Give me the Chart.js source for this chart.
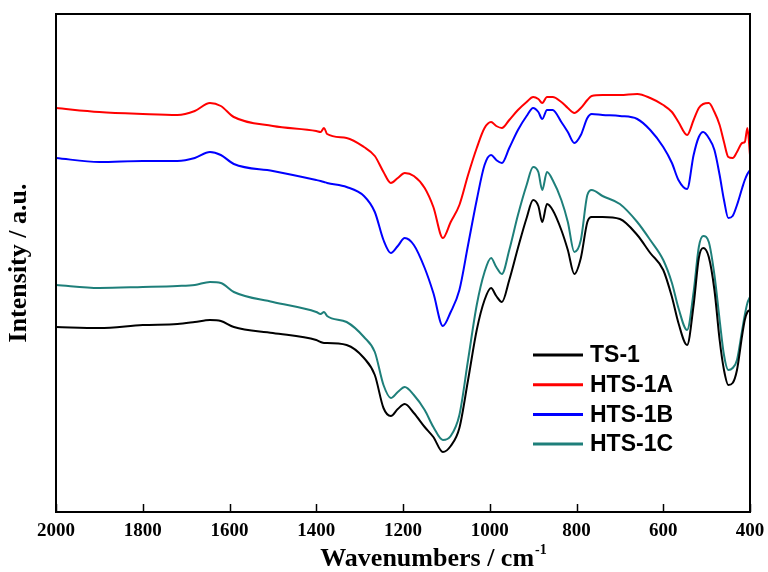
<!DOCTYPE html>
<html>
<head>
<meta charset="utf-8">
<script src="https://cdn.jsdelivr.net/npm/chart.js@4.4.1/dist/chart.umd.min.js"></script>
<style>
  html, body { margin: 0; padding: 0; background: #fff; }
  #wrap { width: 768px; height: 572px; }
</style>
</head>
<body>
<div id="wrap"><canvas id="myChart"></canvas></div>
<script>
// wavenumbers (cm-1)
const wavenumbers = [2000,1900,1800,1720,1680,1645,1620,1590,1500,1400,
  1390,1382,1375,1330,1290,1265,1245,1228,1212,1196,
  1175,1150,1130,1108,1090,1070,1050,1030,1012,997,
  985,972,955,935,915,900,888,879,868,855,
  835,820,805,790,775,765,740,700,660,630,
  600,580,565,545,530,518,508,495,482,470,
  460,450,440,430,418,412,406,400];

// intensities (a.u., stacked offsets as in the figure)
const ts1 = [185,184,187,188,190,192,191,185,179,172,
  170,169,169,167,154,137,104,96,103,108,
  99,85,75,60,66,84,132,182,212,224,
  216,210,232,264,294,312,306,290,308,302,
  282,262,238,254,290,295,295,293,277,259,
  242,215,189,167,207,254,264,255,222,172,
  142,127,129,142,177,192,200,202];

const hts1a = [404,400,398,397,401,409,406,395,386,381,
  380,384,378,374,365,356,340,329,334,339,
  336,324,305,274,290,307,337,364,384,390,
  386,384,392,402,410,415,413,409,415,415,
  410,404,399,404,412,416,417,417,418,414,
  407,400,390,377,392,404,408,409,400,387,
  370,355,354,360,369,370,384,357];

const hts1b = [354,350,351,351,354,360,357,348,341,332,
  331,330,329,325,316,300,272,259,266,274,
  267,244,219,186,200,222,267,312,347,357,
  352,349,364,382,396,404,400,393,402,402,
  390,380,369,377,394,398,397,396,393,382,
  365,349,332,323,357,375,380,374,362,337,
  312,294,296,307,324,332,338,342];

const hts1c = [227,224,225,226,227,230,229,220,210,200,
  198,200,196,190,175,160,127,114,120,125,
  117,102,85,72,76,97,152,207,240,254,
  245,238,262,297,327,345,340,322,340,332,
  312,290,260,272,317,322,316,308,290,272,
  252,229,204,182,220,265,276,270,237,192,
  157,142,144,152,182,197,209,215];

const seriesNames = ["TS-1", "HTS-1A", "HTS-1B", "HTS-1C"];
const seriesValues = [ts1, hts1a, hts1b, hts1c];
const seriesColors = ["#000000", "#ff0000", "#0000ff", "#1e7f7a"];

const serif = "'Liberation Serif', 'Times New Roman', serif";

function toPoints(values) {
  return wavenumbers.map((w, i) => ({ x: w, y: values[i] }));
}

const data = {
  datasets: seriesNames.map((name, i) => ({
    label: name,
    data: toPoints(seriesValues[i]),
    borderColor: seriesColors[i],
    borderWidth: 2,
    pointRadius: 0,
    fill: false,
    cubicInterpolationMode: "monotone",
  })),
};

/* frame + inner ticks + x title with superscript */
const framePlugin = {
  id: "frame",
  afterDraw(chart) {
    const { ctx, chartArea: a, scales } = chart;
    ctx.save();
    ctx.strokeStyle = "#000";
    ctx.lineWidth = 2;
    ctx.strokeRect(a.left, a.top, a.right - a.left, a.bottom - a.top);
    ctx.lineWidth = 1.5;
    scales.x.ticks.forEach((t) => {
      const px = Math.round(scales.x.getPixelForValue(t.value)) + 0.5;
      ctx.beginPath();
      ctx.moveTo(px, a.bottom);
      ctx.lineTo(px, a.bottom - 8);
      ctx.stroke();
    });

    // x axis title: "Wavenumbers / cm" + superscript "-1"
    const main = "Wavenumbers / cm";
    const sup = "-1";
    ctx.fillStyle = "#000";
    ctx.textBaseline = "alphabetic";
    ctx.font = "bold 26px " + serif;
    const wMain = ctx.measureText(main).width;
    ctx.font = "bold 14px " + serif;
    const wSup = ctx.measureText(sup).width;
    const cx = (a.left + a.right) / 2 + 30;
    const x0 = cx - (wMain + wSup) / 2;
    const base = scales.x.bottom - 6;
    ctx.font = "bold 26px " + serif;
    ctx.fillText(main, x0, base);
    ctx.font = "bold 14px " + serif;
    ctx.fillText(sup, x0 + wMain + 1, base - 12);
    ctx.restore();
  },
};

/* legend inside the plot, bottom right */
const legendPlugin = {
  id: "innerLegend",
  afterDraw(chart) {
    const { ctx, chartArea: a } = chart;
    const x0 = a.right - 217;
    let y = a.bottom - 157;
    ctx.save();
    ctx.font = "bold 23px 'Liberation Sans', Arial, sans-serif";
    ctx.textBaseline = "middle";
    chart.data.datasets.forEach((ds) => {
      ctx.strokeStyle = ds.borderColor;
      ctx.lineWidth = 3;
      ctx.beginPath();
      ctx.moveTo(x0, y);
      ctx.lineTo(x0 + 50, y);
      ctx.stroke();
      ctx.fillStyle = "#000";
      ctx.fillText(ds.label, x0 + 57, y + 1);
      y += 29.7;
    });
    ctx.restore();
  },
};

const config = {
  type: "line",
  data: data,
  options: {
    responsive: false,
    animation: false,
    layout: { padding: { top: 14, right: 18, left: 0, bottom: 0 } },
    plugins: {
      legend: { display: false },
      tooltip: { enabled: false },
    },
    scales: {
      x: {
        type: "linear",
        reverse: true,
        min: 400,
        max: 2000,
        afterFit(scale) { scale.height = 60; },
        ticks: {
          stepSize: 200,
          padding: 0,
          color: "#000",
          font: { family: serif, size: 19, weight: "bold" },
          callback: (v) => String(v),
        },
        grid: { display: false },
        border: { display: true, color: "#000", width: 2 },
        title: { display: false },
      },
      y: {
        min: 0,
        max: 498,
        afterFit(scale) { scale.width = 56; },
        ticks: { display: false },
        grid: { display: false },
        border: { display: true, color: "#000", width: 2 },
        title: {
          display: true,
          text: "Intensity / a.u.",
          color: "#000",
          padding: { top: 4, bottom: 0 },
          font: { family: serif, size: 26, weight: "bold" },
        },
      },
    },
  },
  plugins: [framePlugin, legendPlugin],
};

const canvas = document.getElementById("myChart");
canvas.width = 768;
canvas.height = 572;
const chart = new Chart(canvas.getContext("2d"), config);
</script>
</body>
</html>
